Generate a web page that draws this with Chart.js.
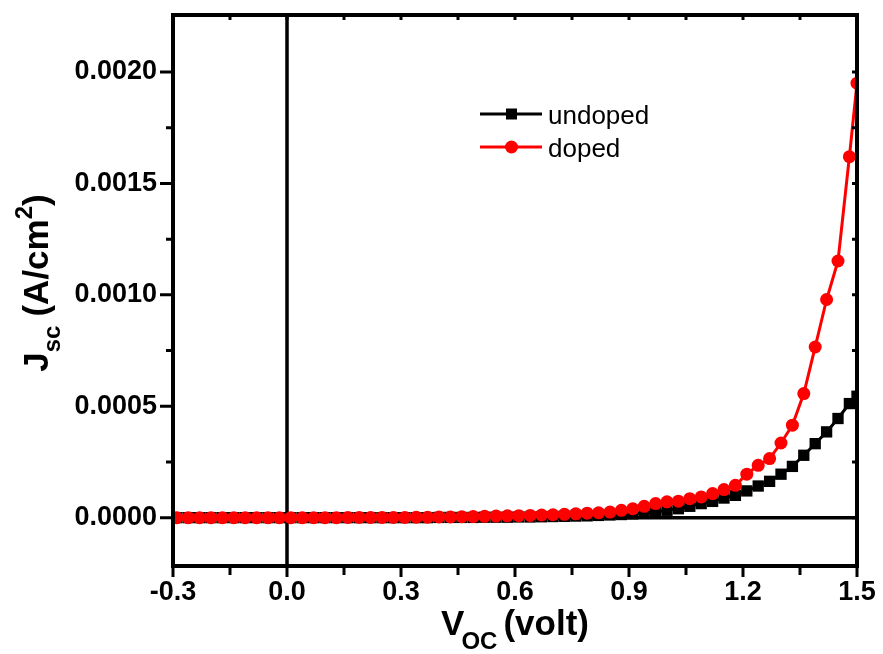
<!DOCTYPE html>
<html><head><meta charset="utf-8">
<script src="https://cdn.jsdelivr.net/npm/chart.js@4/dist/chart.umd.min.js"></script>
<style>html,body{margin:0;padding:0;background:#fff;}canvas{display:block}</style>
</head><body>
<canvas id="c" width="883" height="654"></canvas>
<script>
// ---- data (A/cm^2 vs volt) ----
const voltage = [-0.29,-0.26,-0.23,-0.20,-0.17,-0.14,-0.11,-0.08,-0.05,-0.02,
  0.01,0.04,0.07,0.10,0.13,0.16,0.19,0.22,0.25,0.28,
  0.31,0.34,0.37,0.40,0.43,0.46,0.49,0.52,0.55,0.58,
  0.61,0.64,0.67,0.70,0.73,0.76,0.79,0.82,0.85,0.88,
  0.91,0.94,0.97,1.00,1.03,1.06,1.09,1.12,1.15,1.18,
  1.21,1.24,1.27,1.30,1.33,1.36,1.39,1.42,1.45,1.48,1.50];
const undoped = [0,0,0,0,0,0,0,0,0,0,
  0,0,0,0,0,0,0,0,0,0,
  0,0,0,0.000001,0.000001,0.000001,0.000001,0.000002,0.000002,0.000002,
  0.000003,0.000003,0.000004,0.000005,0.000006,0.000007,0.000008,0.000010,0.000012,0.000014,
  0.000017,0.000020,0.000025,0.000033,0.000040,0.000051,0.000063,0.000073,0.000088,0.000100,
  0.000120,0.000142,0.000163,0.000195,0.000230,0.000280,0.000332,0.000385,0.000445,0.000512,0.000545];
const doped = [0,0,0,0,0,0,0,0,0,0,
  0,0,0,0,0,0.000001,0.000001,0.000001,0.000001,0.000001,
  0.000001,0.000002,0.000002,0.000003,0.000003,0.000004,0.000005,0.000006,0.000007,0.000008,
  0.000009,0.000010,0.000012,0.000013,0.000015,0.000017,0.000020,0.000022,0.000025,0.000033,
  0.000040,0.000051,0.000063,0.000071,0.000074,0.000085,0.000093,0.000108,0.000126,0.000145,
  0.000195,0.000235,0.000265,0.000335,0.000415,0.000557,0.000766,0.000979,0.001152,0.001620,0.001950];
const seriesNames = ['undoped', 'doped'];
const xTicks = [-0.3, 0.0, 0.3, 0.6, 0.9, 1.2, 1.5];
const xMinorTicks = [-0.15, 0.15, 0.45, 0.75, 1.05, 1.35];
const yTicks = [0.0000, 0.0005, 0.0010, 0.0015, 0.0020];
const yMinorTicks = [0.00025, 0.00075, 0.00125, 0.00175];
const xRange = [-0.3, 1.5];
const yRange = [-0.000217, 0.002256];

const FONT = '"Liberation Sans", Arial, Helvetica, sans-serif';

const decorPlugin = {
  id: 'decor',
  beforeDatasetsDraw(chart) {
    const {ctx, chartArea: a, scales: {x, y}} = chart;
    ctx.save();
    ctx.strokeStyle = '#000';
    ctx.lineWidth = 3.5;
    const x0 = x.getPixelForValue(0), y0 = y.getPixelForValue(0);
    ctx.beginPath();
    ctx.moveTo(x0, a.top); ctx.lineTo(x0, a.bottom);
    ctx.moveTo(a.left, y0); ctx.lineTo(a.right, y0);
    ctx.stroke();
    ctx.restore();
  },
  afterDatasetsDraw(chart) {
    const {ctx, chartArea: a, scales: {x, y}} = chart;
    ctx.save();
    ctx.strokeStyle = '#000';
    ctx.lineWidth = 4;
    ctx.strokeRect(a.left, a.top, a.right - a.left, a.bottom - a.top);
    ctx.lineWidth = 3;
    ctx.beginPath();
    const inside = (p, lo, hi) => p > lo + 3 && p < hi - 3;
    xTicks.forEach(v => {
      const p = x.getPixelForValue(v);
      ctx.moveTo(p, a.bottom); ctx.lineTo(p, a.bottom + 11);
      if (inside(p, a.left, a.right)) { ctx.moveTo(p, a.top); ctx.lineTo(p, a.top + 5); }
    });
    xMinorTicks.forEach(v => {
      const p = x.getPixelForValue(v);
      ctx.moveTo(p, a.bottom); ctx.lineTo(p, a.bottom + 9);
      ctx.moveTo(p, a.top); ctx.lineTo(p, a.top + 5);
    });
    yTicks.forEach(v => {
      const p = y.getPixelForValue(v);
      ctx.moveTo(a.left, p); ctx.lineTo(a.left - 13, p);
      ctx.moveTo(a.right, p); ctx.lineTo(a.right - 5, p);
    });
    yMinorTicks.forEach(v => {
      const p = y.getPixelForValue(v);
      ctx.moveTo(a.left, p); ctx.lineTo(a.left - 7, p);
      ctx.moveTo(a.right, p); ctx.lineTo(a.right - 5, p);
    });
    ctx.stroke();
    ctx.restore();
  },
  afterDraw(chart) {
    const {ctx, chartArea: a} = chart;
    ctx.save();
    ctx.fillStyle = '#000';
    ctx.textBaseline = 'alphabetic';
    ctx.textAlign = 'left';
    const big = `bold 35px ${FONT}`, small = `bold 24px ${FONT}`;
    // X title: V_OC (volt)
    ctx.font = big; const wV = ctx.measureText('V').width; const wR = ctx.measureText('(volt)').width;
    ctx.font = small; const wOC = ctx.measureText('OC').width;
    const total = wV - 3 + wOC + 6 + wR;
    let sx = (a.left + a.right) / 2 - total / 2;
    const by = 635;
    ctx.font = big; ctx.fillText('V', sx, by); sx += wV - 3;
    ctx.font = small; ctx.fillText('OC', sx, by + 14); sx += wOC + 6;
    ctx.font = big; ctx.fillText('(volt)', sx, by);

    // Y title: J_sc (A/cm^2)
    const segs = [
      {t: 'J', f: big, dv: 0, gap: 0},
      {t: 'sc', f: small, dv: 12, gap: 9},
      {t: '(A/cm', f: big, dv: 0, gap: 0},
      {t: '2', f: small, dv: -16, gap: 0},
      {t: ')', f: big, dv: 0, gap: 0}
    ];
    let tw = 0;
    segs.forEach(s => { ctx.font = s.f; s.w = ctx.measureText(s.t).width; tw += s.w + s.gap; });
    ctx.translate(48, 283);
    ctx.rotate(-Math.PI / 2);
    let u = -tw / 2;
    segs.forEach(s => { ctx.font = s.f; ctx.fillText(s.t, u, s.dv); u += s.w + s.gap; });
    ctx.setTransform(1, 0, 0, 1, 0, 0);

    // Legend
    const rows = [114, 147];
    chart.data.datasets.forEach((ds, i) => {
      const ly = rows[i];
      ctx.strokeStyle = ds.borderColor; ctx.lineWidth = 3;
      ctx.beginPath(); ctx.moveTo(480, ly); ctx.lineTo(542, ly); ctx.stroke();
      ctx.fillStyle = ds.pointBackgroundColor;
      if (ds.pointStyle === 'rect') {
        ctx.fillRect(511.5 - 5.5, ly - 5.5, 11, 11);
      } else {
        ctx.beginPath(); ctx.arc(511.5, ly, 6.5, 0, Math.PI * 2); ctx.fill();
      }
      ctx.fillStyle = '#000';
      ctx.font = `26px ${FONT}`;
      ctx.fillText(ds.label, 548, ly + 9.5);
    });
    ctx.restore();
  }
};

const toPts = arr => voltage.map((v, i) => ({x: v, y: arr[i]}));

new Chart(document.getElementById('c'), {
  type: 'line',
  data: {
    datasets: [
      {label: seriesNames[0], data: toPts(undoped), borderColor: '#000', backgroundColor: '#000',
       pointBackgroundColor: '#000', pointBorderColor: '#000', pointStyle: 'rect', pointRadius: 8,
       pointBorderWidth: 0, borderWidth: 3, tension: 0, order: 1},
      {label: seriesNames[1], data: toPts(doped), borderColor: '#ff0000', backgroundColor: '#ff0000',
       pointBackgroundColor: '#ff0000', pointBorderColor: '#ff0000', pointStyle: 'circle', pointRadius: 6.5,
       pointBorderWidth: 0, borderWidth: 3, tension: 0, order: 0}
    ]
  },
  options: {
    responsive: false,
    animation: false,
    events: [],
    layout: {padding: {top: 15, right: 26, left: 0, bottom: 0}},
    plugins: {legend: {display: false}, tooltip: {enabled: false}},
    scales: {
      x: {
        type: 'linear', min: xRange[0], max: xRange[1],
        grid: {display: false, drawTicks: false},
        border: {display: false},
        afterBuildTicks: s => { s.ticks = xTicks.map(v => ({value: v})); },
        afterFit: s => { s.height = 88; s.paddingLeft = 0; s.paddingRight = 0; },
        ticks: {color: '#000', padding: 10, font: {family: FONT, size: 27, weight: 'bold'},
                maxRotation: 0, autoSkip: false, callback: v => Number(v).toFixed(1)}
      },
      y: {
        type: 'linear', min: yRange[0], max: yRange[1],
        grid: {display: false, drawTicks: false},
        border: {display: false},
        afterBuildTicks: s => { s.ticks = yTicks.map(v => ({value: v})); },
        afterFit: s => { s.width = 173; s.paddingTop = 0; s.paddingBottom = 0; },
        ticks: {color: '#000', padding: 16, font: {family: FONT, size: 27, weight: 'bold'},
                autoSkip: false, callback: v => Number(v).toFixed(4)}
      }
    }
  },
  plugins: [decorPlugin]
});
</script>
</body></html>
